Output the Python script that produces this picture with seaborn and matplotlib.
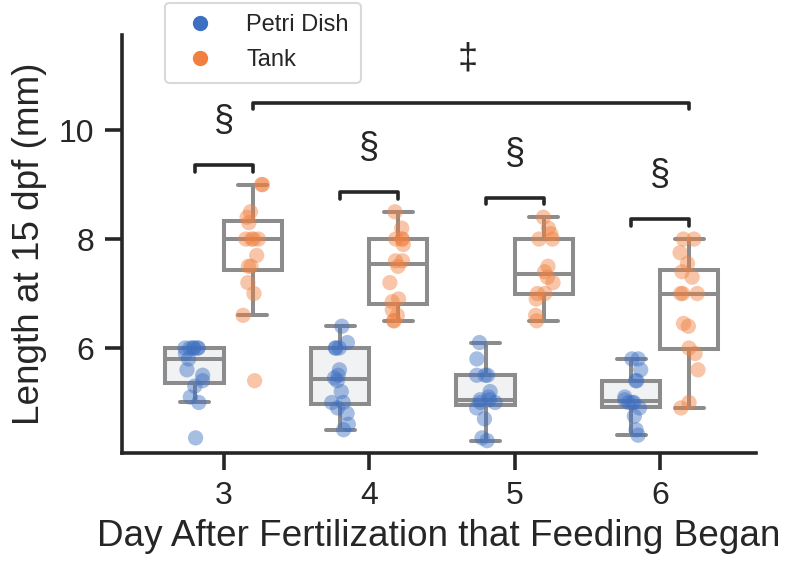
"""Recreate the zebrafish length boxplot: Petri Dish vs Tank by feeding start day."""
#####################################
# Imports At the Top
#####################################

import matplotlib

matplotlib.use("Agg")
import matplotlib.pyplot as plt
import numpy as np
import pandas as pd
import seaborn as sns
from matplotlib.lines import Line2D

#####################################
# Data
#####################################

days = ["3", "4", "5", "6"]
housing = ["Petri Dish", "Tank"]

petri_day3 = [4.35, 5.0, 5.1, 5.3, 5.4, 5.5, 5.6, 5.8, 5.9, 6.0, 6.0, 6.0, 6.0, 6.0, 6.0]
petri_day4 = [4.5, 4.6, 4.8, 4.9, 5.0, 5.0, 5.2, 5.4, 5.45, 5.5, 5.6, 6.0, 6.0, 6.0, 6.1, 6.4]
petri_day5 = [4.3, 4.35, 4.7, 4.9, 5.0, 5.0, 5.05, 5.05, 5.1, 5.2, 5.5, 5.5, 5.5, 5.8, 6.1]
petri_day6 = [4.4, 4.5, 4.75, 4.9, 5.0, 5.0, 5.0, 5.05, 5.1, 5.4, 5.4, 5.6, 5.8, 5.8]

tank_day3 = [5.4, 6.6, 7.0, 7.2, 7.5, 7.5, 7.7, 8.0, 8.0, 8.0, 8.0, 8.3, 8.4, 8.5, 9.0, 9.0]
tank_day4 = [6.5, 6.5, 6.6, 6.7, 6.85, 6.9, 7.2, 7.5, 7.6, 7.6, 7.9, 8.0, 8.0, 8.0, 8.2, 8.5]
tank_day5 = [6.5, 6.6, 6.9, 7.0, 7.0, 7.2, 7.3, 7.4, 7.5, 8.0, 8.0, 8.1, 8.2, 8.4]
tank_day6 = [4.9, 5.0, 5.6, 5.9, 6.0, 6.4, 6.45, 7.0, 7.0, 7.0, 7.3, 7.4, 7.55, 7.75, 8.0, 8.0]

petri_values = [petri_day3, petri_day4, petri_day5, petri_day6]
tank_values = [tank_day3, tank_day4, tank_day5, tank_day6]

# significance marks: "§" within each day, "‡" Tank day 3 vs Tank day 6
pair_marks = ["§", "§", "§", "§"]
tank_mark = "‡"

point_colors = ["#3d6fc2", "#f0803f"]
box_faces = ["#f1f2f3", "#ffffff"]
ink = "#262626"


#####################################
# Define Functions
#####################################


def build_frame() -> pd.DataFrame:
    """Turn the named lists into a long-format table."""
    rows = []
    for group, series in zip(housing, [petri_values, tank_values]):
        for day, vals in zip(days, series):
            for v in vals:
                rows.append({"day": day, "housing": group, "length": v})
    return pd.DataFrame(rows)


def bracket(ax, x0, x1, y, drop=0.12):
    """Draw a significance bracket with short downward ends."""
    ax.plot([x0, x0, x1, x1], [y - drop, y, y, y - drop],
            color=ink, lw=2.6, solid_capstyle="round",
            solid_joinstyle="round", clip_on=False, zorder=5)


def make_chart() -> None:
    data = build_frame()

    sns.set_theme(style="ticks")
    plt.rcParams["font.family"] = ["Liberation Sans", "DejaVu Sans"]

    fig = plt.figure(figsize=(7.91, 5.70), dpi=100)
    ax = fig.add_axes([0.154, 0.205, 0.802, 0.734])

    sns.boxplot(data=data, x="day", y="length", hue="housing",
                order=days, hue_order=housing, palette=box_faces,
                linecolor="#8c8c8c", linewidth=2.9, showfliers=False,
                width=0.8, legend=False, ax=ax, zorder=1)

    np.random.seed(3)
    sns.stripplot(data=data, x="day", y="length", hue="housing",
                  order=days, hue_order=housing, palette=point_colors,
                  dodge=True, jitter=0.14, size=11, alpha=0.45,
                  linewidth=0, legend=False, ax=ax, zorder=3)

    # within-day brackets, sitting just above the taller tank group
    off = 0.2
    for i, (mark, tvals) in enumerate(zip(pair_marks, tank_values)):
        top = max(tvals) + 0.36
        bracket(ax, i - off, i + off, top)
        ax.text(i, top + 0.8, mark, ha="center", va="center",
                fontsize=26, color=ink)

    # tank day 3 vs tank day 6
    span_top = max(tank_day3) + 1.5
    bracket(ax, 0 + off, 3 + off, span_top)
    ax.text(1.68, span_top + 0.8, tank_mark, ha="center", va="center",
            fontsize=26, color=ink)

    ax.set_xlim(-0.7, 3.66)
    ax.set_ylim(4.07, 11.75)
    ax.set_yticks([6, 8, 10])
    ax.set_xlabel("Day After Fertilization that Feeding Began",
                  fontsize=26.6, color=ink, labelpad=6)
    ax.set_ylabel("Length at 15 dpf (mm)", fontsize=26.6, color=ink, labelpad=8)
    ax.tick_params(axis="both", labelsize=23, width=2.6, length=12,
                   color=ink, labelcolor=ink, pad=8)
    for side in ["left", "bottom"]:
        ax.spines[side].set_linewidth(2.6)
        ax.spines[side].set_color(ink)
    sns.despine(ax=ax)

    handles = [Line2D([], [], marker="o", ls="", ms=10, color=c, label=h)
               for c, h in zip(point_colors, housing)]
    leg = ax.legend(handles=handles, loc="upper left",
                    bbox_to_anchor=(0.068, 1.077), borderaxespad=0,
                    fontsize=17, frameon=True, handletextpad=0.95,
                    borderpad=0.5, labelspacing=0.55)
    leg.get_frame().set_edgecolor("#d0d0d0")
    leg.get_frame().set_linewidth(1.5)

    fig.savefig("out.png", dpi=100)


#####################################
# Conditional Execution
#####################################

if __name__ == "__main__":
    make_chart()
